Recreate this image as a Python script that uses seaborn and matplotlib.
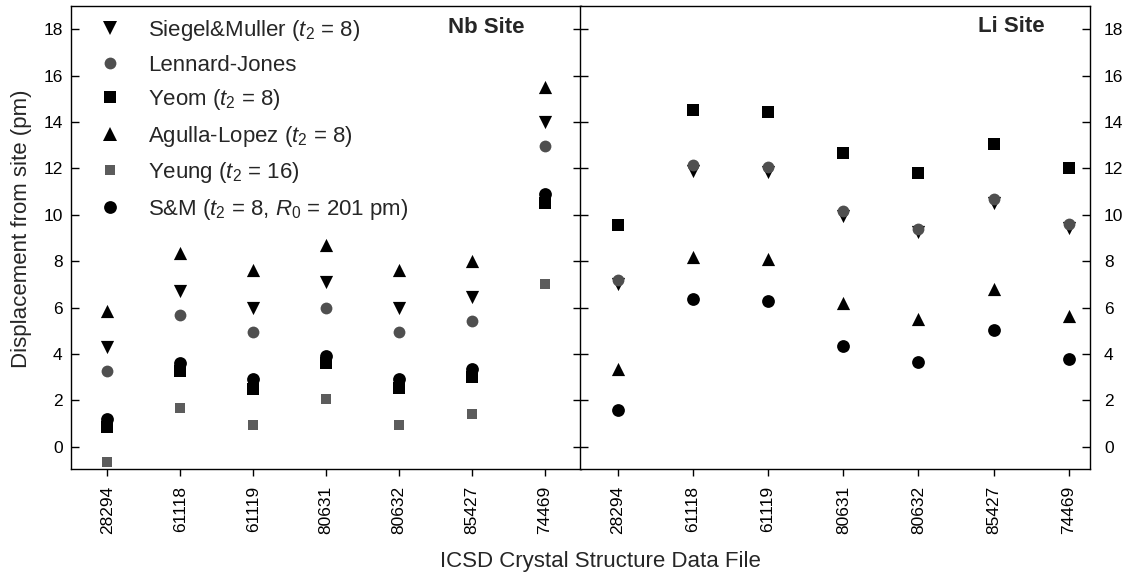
import matplotlib
matplotlib.use("Agg")
import matplotlib.pyplot as plt
from matplotlib.lines import Line2D
import numpy as np
import seaborn as sns

# ICSD structure files on the category axis
files = ["28294", "61118", "61119", "80631", "80632", "85427", "74469"]

# Displacement from site (pm), Nb site
nb_siegel = [4.3, 6.7, 6.0, 7.1, 6.0, 6.45, 14.0]
nb_lj = [3.25, 5.7, 4.95, 6.0, 4.95, 5.4, 12.95]
nb_yeom = [0.85, 3.25, 2.5, 3.6, 2.55, 3.0, 10.5]
nb_agulla = [5.85, 8.35, 7.6, 8.7, 7.6, 8.0, 15.5]
nb_yeung = [-0.65, 1.65, 0.95, 2.05, 0.95, 1.4, 7.0]
nb_sm = [1.2, 3.6, 2.9, 3.9, 2.9, 3.35, 10.9]

# Displacement from site (pm), Li site
li_siegel = [7.0, 11.9, 11.85, 9.95, 9.25, 10.5, 9.45]
li_lj = [7.2, 12.15, 12.05, 10.15, 9.4, 10.7, 9.6]
li_yeom = [9.55, 14.5, 14.45, 12.65, 11.8, 13.05, 12.0]
li_agulla = [3.35, 8.2, 8.1, 6.2, 5.5, 6.8, 5.65]
li_sm = [1.6, 6.35, 6.3, 4.35, 3.65, 5.05, 3.8]

labels = [
    "Siegel&Muller ($t_2$ = 8)",
    "Lennard-Jones",
    "Yeom ($t_2$ = 8)",
    "Agulla-Lopez ($t_2$ = 8)",
    "Yeung ($t_2$ = 16)",
    "S&M ($t_2$ = 8, $R_0$ = 201 pm)",
]
# marker, colour, size (pt) per model
styles = [
    ("v", "black", 9.5),
    ("o", "#4f4f4f", 8.5),
    ("s", "black", 8.2),
    ("^", "black", 9.5),
    ("s", "#5c5c5c", 6.8),
    ("o", "black", 9.2),
]

sns.set_style("ticks")
plt.rcParams["font.family"] = ["Liberation Sans", "DejaVu Sans"]
plt.rcParams["mathtext.fontset"] = "custom"
plt.rcParams["mathtext.rm"] = "Liberation Sans"
plt.rcParams["mathtext.it"] = "Liberation Sans:italic"
plt.rcParams["axes.linewidth"] = 1.0
plt.rcParams["axes.edgecolor"] = "black"

W, H = 1134, 582
fig = plt.figure(figsize=(W / 100, H / 100), dpi=100)
fig.patch.set_facecolor("white")
ax_nb = fig.add_axes([71 / W, 1 - 469 / H, 510 / W, 463 / H])
ax_li = fig.add_axes([580 / W, 1 - 469 / H, 510 / W, 463 / H])

panels = [
    (ax_nb, [nb_siegel, nb_lj, nb_yeom, nb_agulla, nb_yeung, nb_sm], (-0.5, 6.5)),
    (ax_li, [li_siegel, li_lj, li_yeom, li_agulla, None, li_sm], (-0.5, 6.28)),
]

for ax, series, xlim in panels:
    for vals, (mk, col, sz) in zip(series, styles):
        if vals is None:
            continue
        sns.stripplot(x=files, y=vals, order=files, ax=ax, jitter=False,
                      marker=mk, color=col, size=sz, linewidth=0)
    ax.set_xlim(*xlim)
    ax.set_ylim(-0.96, 19.0)
    ax.set_yticks(np.arange(0, 19, 2))
    ax.set_xlabel("")
    ax.set_ylabel("")
    for sp in ax.spines.values():
        sp.set_visible(True)
        sp.set_color("black")
        sp.set_linewidth(1.0)
    ax.tick_params(axis="x", direction="out", length=5, width=1,
                   labelsize=12.5, rotation=90, pad=7, colors="black")

ax_nb.tick_params(axis="y", direction="in", length=6, width=1, left=True,
                  right=True, labelleft=True, labelright=False,
                  labelsize=12.5, pad=6, colors="black")
ax_li.tick_params(axis="y", direction="in", length=6, width=1, left=True,
                  right=True, labelleft=False, labelright=True,
                  labelsize=12.5, pad=10, colors="black")

handles = [Line2D([], [], marker=mk, color=col, linestyle="none",
                  markersize=sz, markeredgewidth=0)
           for mk, col, sz in styles]
ax_nb.legend(handles, labels, loc="upper left", bbox_to_anchor=(0.033, 0.974),
             frameon=False, fontsize=16, labelspacing=0.52, handletextpad=0.7,
             handlelength=2.0, borderpad=0, borderaxespad=0)

ax_nb.text(0.89, 0.953, "Nb Site", transform=ax_nb.transAxes, ha="right",
           va="center", fontsize=16, fontweight="bold")
ax_li.text(0.912, 0.955, "Li Site", transform=ax_li.transAxes, ha="right",
           va="center", fontsize=16, fontweight="bold")

fig.text(600 / W, 1 - 562 / H, "ICSD Crystal Structure Data File",
         ha="center", va="center", fontsize=16)
fig.text(22 / W, 1 - 229 / H, "Displacement from site (pm)", rotation=90,
         ha="center", va="center", fontsize=16)

fig.savefig("out.png", dpi=100, facecolor="white")
